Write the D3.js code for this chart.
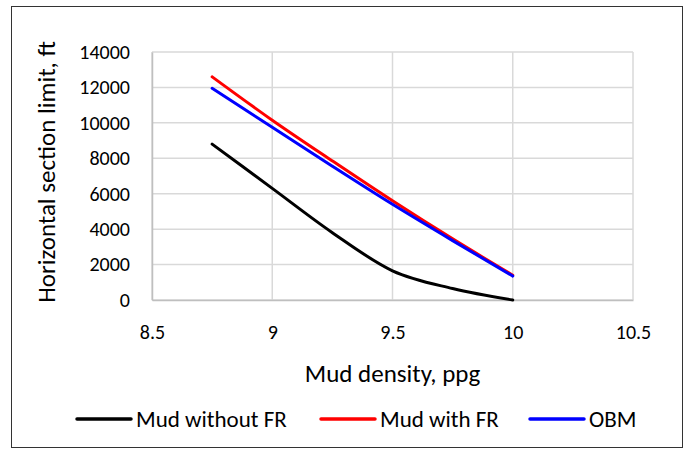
<!DOCTYPE html>
<html>
<head>
<meta charset="utf-8">
<script src="https://cdn.jsdelivr.net/npm/d3@7"></script>
<style>
  body { margin: 0; background: #fff; }
  text { font-family: Carlito, Lato, "Open Sans", sans-serif; fill: #000; }
</style>
</head>
<body>
<div id="chart-area"></div>
<script>
// data
let densities = [8.75, 9, 9.25, 9.5, 9.75, 10]
let mudWithoutFR = [8800, 6300, 3800, 1650, 650, 0]
let mudWithFR = [12600, 10150, 7850, 5600, 3450, 1400]
let obm = [11950, 9750, 7550, 5400, 3350, 1350]
let xTicks = [8.5, 9, 9.5, 10, 10.5]
let yTicks = [0, 2000, 4000, 6000, 8000, 10000, 12000, 14000]

let series = [
  { name: 'Mud without FR', values: mudWithoutFR, color: '#000000' },
  { name: 'Mud with FR', values: mudWithFR, color: '#ff0000' },
  { name: 'OBM', values: obm, color: '#0000ff' }
]

let width = 688
let height = 453
let margin = { top: 52, right: 55, bottom: 153, left: 152 }
let plotWidth = 633 - margin.left
let plotHeight = 300 - margin.top

let svg = d3.select('#chart-area').append('svg')
  .attr('width', width)
  .attr('height', height)

// outer frame
svg.append('rect')
  .attr('x', 11.5).attr('y', 6.5)
  .attr('width', 671).attr('height', 441)
  .attr('fill', 'none')
  .attr('stroke', '#333')
  .attr('stroke-width', 1)

let g = svg.append('g')
  .attr('transform', 'translate(' + margin.left + ', ' + margin.top + ')')

let x = d3.scaleLinear().domain([8.5, 10.5]).range([0, plotWidth])
let y = d3.scaleLinear().domain([0, 14000]).range([plotHeight, 0])

// gridlines
g.append('g')
  .selectAll('line.hgrid')
  .data(yTicks)
  .enter().append('line')
    .attr('x1', 0).attr('x2', plotWidth)
    .attr('y1', d => y(d)).attr('y2', d => y(d))
    .attr('stroke', '#d9d9d9')
    .attr('stroke-width', 1.5)

g.append('g')
  .selectAll('line.vgrid')
  .data(xTicks)
  .enter().append('line')
    .attr('x1', d => x(d)).attr('x2', d => x(d))
    .attr('y1', 0).attr('y2', plotHeight)
    .attr('stroke', '#d9d9d9')
    .attr('stroke-width', 1.5)

// axes
let xAxis = g.append('g')
  .attr('transform', 'translate(0, ' + plotHeight + ')')
  .call(d3.axisBottom(x).tickValues(xTicks).tickSize(0).tickPadding(25).tickFormat(d => d3.format('')(d)))
xAxis.select('.domain').attr('stroke', '#bfbfbf').attr('stroke-width', 1.5)
xAxis.selectAll('text').style('font-size', '20px')

let yAxis = g.append('g')
  .call(d3.axisLeft(y).tickValues(yTicks).tickSize(0).tickPadding(22).tickFormat(d => d))
yAxis.select('.domain').attr('stroke', '#bfbfbf').attr('stroke-width', 1.5)
yAxis.selectAll('text').style('font-size', '20px')

// lines
let line = d3.line()
  .x((d, i) => x(densities[i]))
  .y(d => y(d))
  .curve(d3.curveMonotoneX)

g.selectAll('path.series')
  .data(series)
  .enter().append('path')
    .attr('class', 'series')
    .attr('d', d => line(d.values))
    .attr('fill', 'none')
    .attr('stroke', d => d.color)
    .attr('stroke-width', 3)
    .attr('stroke-linecap', 'round')

// axis titles
svg.append('text')
  .attr('x', margin.left + plotWidth / 2)
  .attr('y', 382)
  .attr('text-anchor', 'middle')
  .style('font-size', '25px')
  .text('Mud density, ppg')

svg.append('text')
  .attr('transform', 'translate(55, ' + (margin.top + plotHeight / 2 - 4) + ') rotate(-90)')
  .attr('text-anchor', 'middle')
  .style('font-size', '25px')
  .text('Horizontal section limit, ft')

// legend
let legendX = [77, 321, 530]
let legend = svg.selectAll('g.legend')
  .data(series)
  .enter().append('g')
    .attr('class', 'legend')
    .attr('transform', (d, i) => 'translate(' + legendX[i] + ', 419)')

legend.append('line')
  .attr('x1', 0).attr('x2', 54)
  .attr('y1', 0).attr('y2', 0)
  .attr('stroke', d => d.color)
  .attr('stroke-width', 3.5)
  .attr('stroke-linecap', 'round')

legend.append('text')
  .attr('x', 59)
  .attr('y', 8)
  .style('font-size', '23px')
  .text(d => d.name)
</script>
</body>
</html>
